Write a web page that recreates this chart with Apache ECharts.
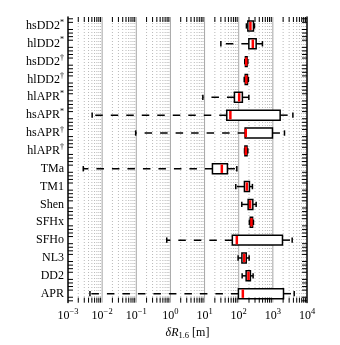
<!DOCTYPE html>
<html>
<head>
<meta charset="utf-8">
<script src="https://cdn.jsdelivr.net/npm/echarts@6/dist/echarts.min.js"></script>
<style>
  html, body { margin: 0; padding: 0; background: #fff; }
  #chart { width: 340px; height: 345px; }
</style>
</head>
<body>
<div id="chart"></div>
<script>
// model names, top to bottom
const categories = ['hsDD2*', 'hlDD2*', 'hsDD2†', 'hlDD2†', 'hlAPR*', 'hsAPR*', 'hsAPR†', 'hlAPR†',
  'TMa', 'TM1', 'Shen', 'SFHx', 'SFHo', 'NL3', 'DD2', 'APR'];
// box plot stats for delta R_1.6 [m]
const lowWhisker  = [168, 30, 150, 145, 8.9, 0.0051, 0.096, 148, 0.0028, 82, 123, 205, 0.78, 96, 126, 0.0044];
const q1          = [185, 198, 157, 155, 75, 44.7, 154, 152, 17, 147, 189, 218, 65, 124, 165, 98];
const median      = [220, 259, 166, 167, 103, 57, 161, 162, 32, 173, 216, 236, 88, 145, 193, 132];
const q3          = [270, 324, 176, 180, 128, 1636, 973, 175, 46.7, 206, 259, 255, 1914, 166, 220, 2050];
const highWhisker = [289, 495, 185, 192, 198, 3860, 2190, 185, 88, 252, 324, 270, 3680, 202, 264, 4220];
// axis
const xMin = 1e-3, xMax = 1e4;
const decades = [1e-2, 1e-1, 1, 10, 100, 1000];
const minorSteps = [2, 3, 4, 5, 6, 7, 8, 9];

const minorVals = [];
for (let k = -3; k <= 3; k++) {
  minorSteps.forEach(m => minorVals.push(m * Math.pow(10, k)));
}

const boxData = categories.map((c, i) => [i, lowWhisker[i], q1[i], median[i], q3[i], highWhisker[i]]);

const serif = 'Liberation Serif';
const SUP = { '*': '*', '†': '†' };

function catLabel(name) {
  const last = name.slice(-1);
  if (SUP[last]) return '{n|' + name.slice(0, -1) + '}{s|' + last + '}';
  return '{n|' + name + '}';
}

function powLabel(v) {
  const e = Math.round(Math.log10(v));
  return '{b|10}{s|' + (e < 0 ? '\u2212' + (-e) : e) + '}';
}

function renderBox(params, api) {
  const i = api.value(0);
  const yc = api.coord([1, i])[1];
  const band = api.size([0, 1], [1, i])[1];
  const h = band * 0.56;
  const capH = band * 0.3;
  const xLo = api.coord([api.value(1), i])[0];
  const xQ1 = api.coord([api.value(2), i])[0];
  const xMed = api.coord([api.value(3), i])[0];
  const xQ3 = api.coord([api.value(4), i])[0];
  const xHi = api.coord([api.value(5), i])[0];
  const wStyle = { stroke: '#000', lineWidth: 1.5, lineDash: [7.5, 8] };
  const cStyle = { stroke: '#000', lineWidth: 1.5 };
  return {
    type: 'group',
    children: [
      { type: 'line', shape: { x1: xQ1, y1: yc, x2: xLo, y2: yc }, style: wStyle },
      { type: 'line', shape: { x1: xQ3, y1: yc, x2: xHi, y2: yc }, style: wStyle },
      { type: 'line', shape: { x1: xLo, y1: yc - capH / 2, x2: xLo, y2: yc + capH / 2 }, style: cStyle },
      { type: 'line', shape: { x1: xHi, y1: yc - capH / 2, x2: xHi, y2: yc + capH / 2 }, style: cStyle },
      { type: 'rect', shape: { x: xQ1, y: yc - h / 2, width: xQ3 - xQ1, height: h },
        style: { fill: '#fff', stroke: '#000', lineWidth: 1.5 } },
      { type: 'line', shape: { x1: xMed, y1: yc - h / 2 + 0.8, x2: xMed, y2: yc + h / 2 - 0.8 },
        style: { stroke: '#ff0000', lineWidth: 2.5 } }
    ]
  };
}

// dotted minor + solid decade grid lines
function renderGrid(params, api) {
  const cs = params.coordSys;
  const x = api.coord([api.value(0), 0])[0];
  const major = api.value(1) === 1;
  return {
    type: 'line',
    shape: { x1: x, y1: cs.y, x2: x, y2: cs.y + cs.height },
    style: major ? { stroke: '#a6a6a6', lineWidth: 1 }
                 : { stroke: '#b8b8b8', lineWidth: 1, lineDash: [1, 2] }
  };
}

function renderXMinorTick(params, api) {
  const cs = params.coordSys;
  const x = api.coord([api.value(0), 0])[0];
  const st = { stroke: '#000', lineWidth: 1 };
  return {
    type: 'group',
    children: [
      { type: 'line', shape: { x1: x, y1: cs.y + cs.height, x2: x, y2: cs.y + cs.height - 5 }, style: st },
      { type: 'line', shape: { x1: x, y1: cs.y, x2: x, y2: cs.y + 5 }, style: st }
    ]
  };
}

function renderYMinorTick(params, api) {
  const cs = params.coordSys;
  const i = api.value(0);
  const yc = api.coord([1, i])[1];
  const band = api.size([0, 1], [1, i])[1];
  const st = { stroke: '#000', lineWidth: 1 };
  const kids = [];
  [-0.4, -0.2, 0.2, 0.4].forEach(f => {
    const y = yc + f * band;
    kids.push({ type: 'line', shape: { x1: cs.x, y1: y, x2: cs.x + 5, y2: y }, style: st });
    kids.push({ type: 'line', shape: { x1: cs.x + cs.width, y1: y, x2: cs.x + cs.width - 5, y2: y }, style: st });
  });
  return { type: 'group', children: kids };
}

const axisLineStyle = { color: '#000', width: 1.5 };
const richCat = {
  n: { fontFamily: serif, fontSize: 12, color: '#000' },
  s: { fontFamily: serif, fontSize: 8, color: '#000', padding: [0, 0, 7, 0] }
};

const chart = echarts.init(document.getElementById('chart'), null, { renderer: 'canvas' });
chart.setOption({
  animation: false,
  backgroundColor: '#fff',
  grid: { left: 68, right: 33, top: 17, bottom: 36, containLabel: false },
  xAxis: [
    {
      type: 'log', logBase: 10, min: xMin, max: xMax, splitNumber: 7, position: 'bottom', z: 10,
      axisLine: { lineStyle: axisLineStyle },
      axisTick: { inside: true, length: 10, lineStyle: { color: '#000', width: 1 } },
      splitLine: { show: false },
      axisLabel: {
        margin: 5, formatter: powLabel,
        rich: {
          b: { fontFamily: serif, fontSize: 12, color: '#000' },
          s: { fontFamily: serif, fontSize: 8.5, color: '#000', padding: [0, 0, 7, 0] }
        }
      },
      name: '{i|δR}{sub|1.6}{n| [m]}',
      nameLocation: 'middle', nameGap: 22,
      nameTextStyle: {
        rich: {
          i: { fontFamily: serif, fontSize: 12, fontStyle: 'italic', color: '#000' },
          sub: { fontFamily: serif, fontSize: 8.5, color: '#000', padding: [6, 0, 0, 0] },
          n: { fontFamily: serif, fontSize: 12, color: '#000' }
        }
      }
    },
    {
      type: 'log', logBase: 10, min: xMin, max: xMax, splitNumber: 7, position: 'top', z: 10,
      axisLine: { lineStyle: axisLineStyle },
      axisTick: { inside: true, length: 10, lineStyle: { color: '#000', width: 1 } },
      splitLine: { show: false },
      axisLabel: { show: false }
    }
  ],
  yAxis: [
    {
      type: 'category', data: categories, inverse: true, position: 'left', z: 10,
      axisLine: { lineStyle: axisLineStyle },
      axisTick: { inside: true, length: 10, alignWithLabel: true, lineStyle: { color: '#000', width: 1 } },
      axisLabel: { margin: 4, formatter: catLabel, rich: richCat },
      splitLine: { show: false }
    },
    {
      type: 'category', data: categories, inverse: true, position: 'right', z: 10,
      axisLine: { lineStyle: axisLineStyle },
      axisTick: { inside: true, length: 10, alignWithLabel: true, lineStyle: { color: '#000', width: 1 } },
      axisLabel: { show: false },
      splitLine: { show: false }
    }
  ],
  series: [
    {
      type: 'custom', name: 'grid', z: 1, silent: true,
      renderItem: renderGrid,
      data: minorVals.map(v => [v, 0]).concat(decades.map(v => [v, 1])),
      encode: { x: 0 }
    },
    {
      type: 'custom', name: 'box', z: 3,
      renderItem: renderBox,
      data: boxData,
      encode: { x: [1, 2, 3, 4, 5], y: 0 }
    },
    {
      type: 'custom', name: 'xminor', z: 5, silent: true,
      renderItem: renderXMinorTick,
      data: minorVals.map(v => [v]),
      encode: { x: 0 }
    },
    {
      type: 'custom', name: 'yminor', z: 5, silent: true,
      renderItem: renderYMinorTick,
      data: categories.map((c, i) => [i]),
      encode: { y: 0 }
    }
  ]
});
</script>
</body>
</html>
